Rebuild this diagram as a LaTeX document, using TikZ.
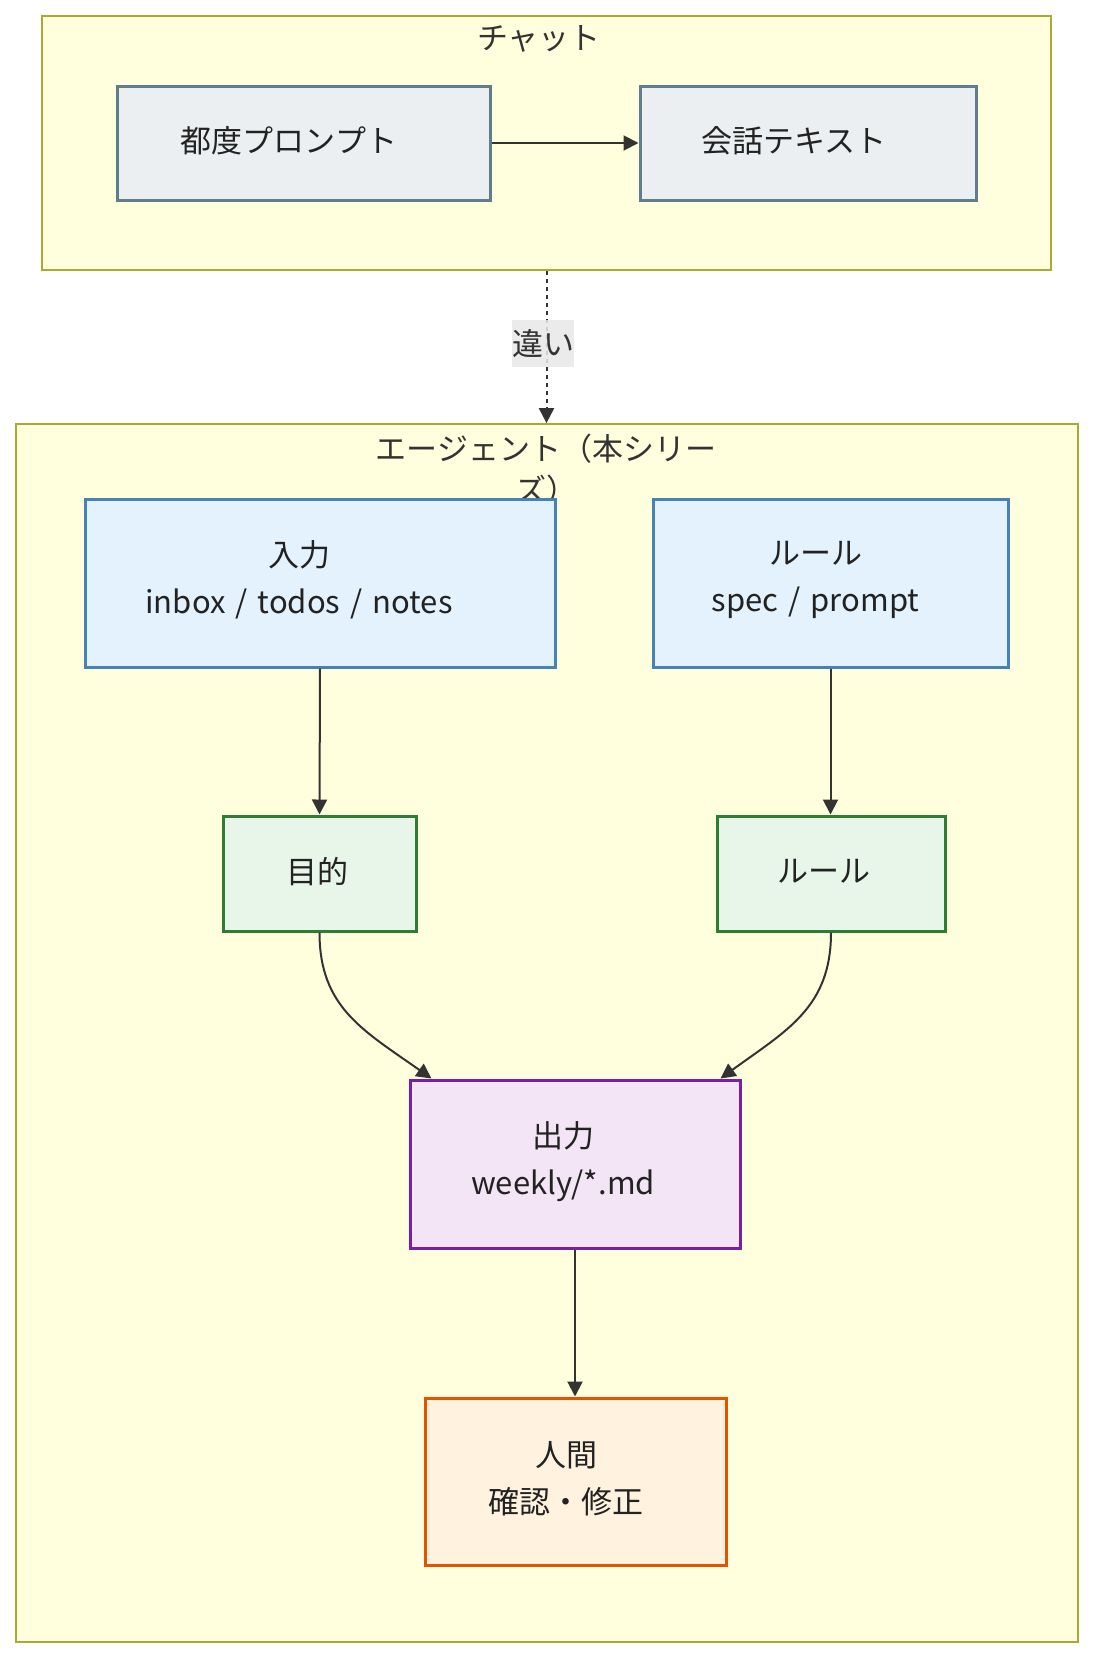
\documentclass[tikz,border=0pt]{standalone}
\usepackage{fontspec}
\setmainfont{Noto Sans CJK JP}
\usetikzlibrary{arrows.meta,calc}
\definecolor{clfill}{HTML}{FFFFDE}
\definecolor{clstroke}{HTML}{AAAA33}
\definecolor{greyfill}{HTML}{ECEFF1}
\definecolor{greystroke}{HTML}{607D8B}
\definecolor{bluefill}{HTML}{E3F2FD}
\definecolor{bluestroke}{HTML}{4682B4}
\definecolor{greenfill}{HTML}{E8F5E9}
\definecolor{greenstroke}{HTML}{2E7D32}
\definecolor{purplefill}{HTML}{F3E5F5}
\definecolor{purplestroke}{HTML}{7B1FA2}
\definecolor{orangefill}{HTML}{FFF3E0}
\definecolor{orangestroke}{HTML}{E65100}
\definecolor{arrowcol}{HTML}{333333}
\definecolor{txtcol}{HTML}{222222}
\definecolor{labelbg}{HTML}{E8E8E8}
\newcommand{\myslash}{\hspace{10pt}/\hspace{10pt}}
\begin{document}
\begin{tikzpicture}[x=1pt,y=-1pt,
  cluster/.style={draw=clstroke, fill=clfill, line width=1.8pt, inner sep=0pt},
  box/.style={line width=3pt, inner sep=0pt},
  greybox/.style={box, draw=greystroke, fill=greyfill},
  bluebox/.style={box, draw=bluestroke, fill=bluefill},
  greenbox/.style={box, draw=greenstroke, fill=greenfill},
  purplebox/.style={box, draw=purplestroke, fill=purplefill},
  orangebox/.style={box, draw=orangestroke, fill=orangefill},
  txt/.style={font=\fontsize{31}{47}\selectfont, text=txtcol, align=center, inner sep=0pt},
  ttl/.style={font=\fontsize{31}{41}\selectfont, text=arrowcol, align=center, inner sep=0pt},
  conn/.style={draw=arrowcol, line width=2pt, -{Triangle[length=15pt,width=15pt]}}
]
\useasboundingbox (0,0) rectangle (1094,1658);
\fill[white] (0,0) rectangle (1094,1658);

% clusters
\node[cluster, minimum width=1009pt, minimum height=254pt] (chat) at (546.5,143) {};
\node[cluster, minimum width=1062pt, minimum height=1218pt] (agent) at (547,1033) {};
\node[ttl] (chattitle) at (539,39) {チャット};
\node[ttl] (agenttitle) at (546,469) {エージェント（本シリー\\ズ）};

% boxes
\node[greybox, minimum width=373pt, minimum height=114pt] (tsudo) at (303.5,143) {};
\node[greybox, minimum width=336pt, minimum height=114pt] (kaiwa) at (808,143) {};
\node[bluebox, minimum width=470pt, minimum height=168pt] (nyuryoku) at (320,583) {};
\node[bluebox, minimum width=355pt, minimum height=168pt] (rule1) at (830.5,583) {};
\node[greenbox, minimum width=193pt, minimum height=115pt] (mokuteki) at (319.5,873.5) {};
\node[greenbox, minimum width=228pt, minimum height=115pt] (rule2) at (831,873.5) {};
\node[purplebox, minimum width=330pt, minimum height=168pt] (shutsu) at (575,1164) {};
\node[orangebox, minimum width=301pt, minimum height=167pt] (ningen) at (575.5,1481.5) {};

% texts
\node[txt] (t-tsudo) at ($(tsudo.center)+(-14.5,-2)$) {都度プロンプト};
\node[txt] (t-kaiwa) at ($(kaiwa.center)+(-14,-2)$) {会話テキスト};
\node[txt] (t-nyuryoku) at ($(nyuryoku.center)+(-21,-3)$) {入力\\inbox\myslash todos\myslash notes};
\node[txt] (t-rule1) at ($(rule1.center)+(-15,-3)$) {ルール\\spec\myslash prompt};
\node[txt] (t-mokuteki) at ($(mokuteki.center)+(-2.5,-2)$) {目的};
\node[txt] (t-rule2) at ($(rule2.center)+(-7,-2)$) {ルール};
\node[txt] (t-shutsu) at ($(shutsu.center)+(-12,-2.5)$) {出力\\weekly/*.md};
\node[txt] (t-ningen) at ($(ningen.center)+(-9.5,-3)$) {人間\\確認・修正};

% connectors
\draw[conn] (tsudo.east) -- (kaiwa.west);
\draw[conn, dash pattern=on 4pt off 4pt] (chat.south) -- (chat.south |- agent.north);
\node[fill=labelbg, fill opacity=0.85, text opacity=1, inner sep=0pt, minimum width=62pt, minimum height=47pt, font=\fontsize{31}{41}\selectfont, text=arrowcol] (diff) at (543,343.5) {違い};
\draw[conn] (nyuryoku.south) -- (mokuteki.north);
\draw[conn] (rule1.south) -- (rule1.south |- rule2.north);
\draw[conn] (mokuteki.south) .. controls ($(mokuteki.south)+(0,75)$) and ($(shutsu.north west)+(-45,-48)$) .. ($(shutsu.north west)+(23,0)$);
\draw[conn] (rule2.south) .. controls ($(rule2.south)+(0,75)$) and ($(shutsu.north east)+(45,-48)$) .. ($(shutsu.north east)+(-21,0)$);
\draw[conn] (shutsu.south) -- (shutsu.south |- ningen.north);
\end{tikzpicture}
\end{document}
